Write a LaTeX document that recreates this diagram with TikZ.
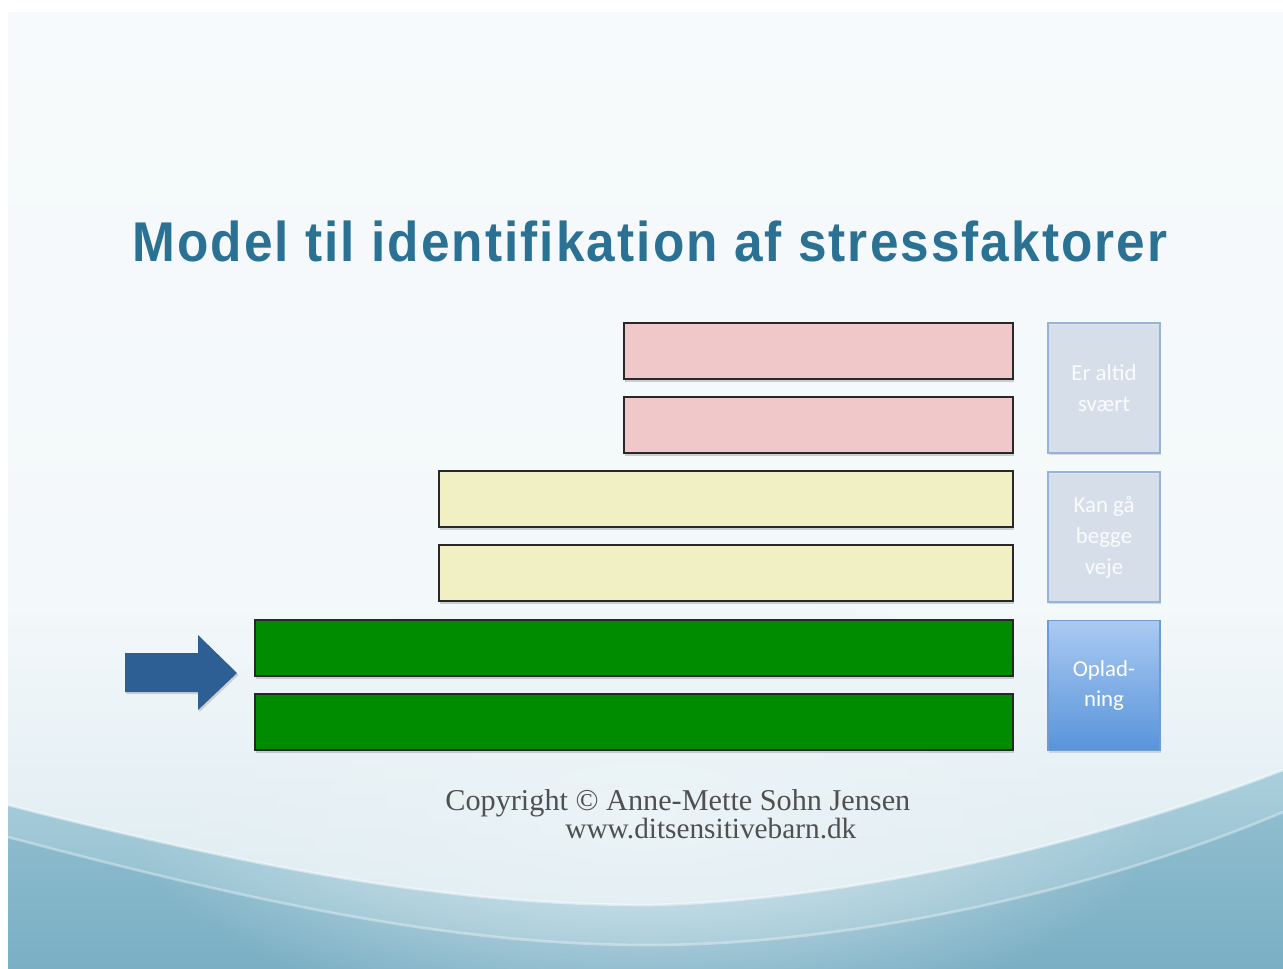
\documentclass[tikz,border=0pt]{standalone}
\usepackage{fontspec}
\setmainfont{Liberation Serif}
\newfontfamily\titlefont[LetterSpace=4]{Liberation Sans}
\newfontfamily\boxfont{Carlito}
\usetikzlibrary{shadows,fadings}

% slide palette
\definecolor{titleblue}{RGB}{42,113,148}
\definecolor{barpink}{RGB}{240,200,202}
\definecolor{baryellow}{RGB}{240,240,196}
\definecolor{bargreen}{RGB}{0,140,0}
\definecolor{barline}{RGB}{40,40,40}
\definecolor{arrowblue}{RGB}{45,95,148}
\definecolor{palebox}{RGB}{214,226,238}
\definecolor{paleedge}{RGB}{150,180,214}
\definecolor{boxtop}{RGB}{170,202,242}
\definecolor{boxbottom}{RGB}{88,148,218}
\definecolor{boxedge}{RGB}{110,155,208}
\definecolor{bgA}{RGB}{249,252,253}
\definecolor{bgB}{RGB}{243,248,250}
\definecolor{bgC}{RGB}{221,235,241}
\definecolor{bgD}{RGB}{188,216,227}
\definecolor{bgE}{RGB}{160,200,215}
\definecolor{bandtop}{RGB}{170,206,219}
\definecolor{bandbot}{RGB}{138,186,204}
\definecolor{deeptop}{RGB}{142,189,206}
\definecolor{deepbot}{RGB}{122,175,196}
\definecolor{glow}{RGB}{236,244,247}
\definecolor{copygray}{RGB}{80,80,80}

% sky gradient, bottom (0bp) to top (100bp)
\pgfdeclareverticalshading{slidesky}{100bp}{%
  color(0bp)=(bgE); color(17bp)=(bgD); color(28bp)=(bgC);
  color(44bp)=(bgB); color(100bp)=(bgA)}
\tikzfading[name=softglow, inner color=transparent!0, outer color=transparent!100]

\tikzset{
  bar/.style={draw=barline, line width=1.3pt, rectangle, inner sep=0pt,
    minimum height=1.12cm,
    drop shadow={shadow xshift=0.6pt, shadow yshift=-1.6pt, opacity=0.35}},
  tag/.style={rectangle, inner sep=0pt, minimum width=2.24cm,
    minimum height=2.6cm, align=center, text=white,
    font=\boxfont\fontsize{13pt}{17.6pt}\selectfont,
    drop shadow={shadow xshift=0.8pt, shadow yshift=-1.4pt, opacity=0.25}},
  paletag/.style={tag, fill=palebox, fill opacity=0.75, text opacity=0.9,
    draw=paleedge, line width=0.9pt},
  deeptag/.style={tag, top color=boxtop, bottom color=boxbottom,
    draw=boxedge, line width=0.9pt},
}

\begin{document}
\begin{tikzpicture}[x=0.02cm, y=-0.02cm]
  % page and slide background
  \fill[white] (0,0) rectangle (1283,969);
  \useasboundingbox (0,0) rectangle (1283,969);
  \shade[shading=slidesky] (8,13) rectangle (1283,969);

  % curved bands along the foot of the slide
  \shade[top color=bandtop, bottom color=bandbot]
    (8,805) .. controls (300,880) and (480,905) .. (650,905)
    .. controls (850,900) and (1090,845) .. (1283,770)
    -- (1283,969) -- (8,969) -- cycle;
  \shade[top color=deeptop, bottom color=deepbot]
    (8,837) .. controls (300,915) and (480,945) .. (650,945)
    .. controls (850,945) and (1100,890) .. (1283,812)
    -- (1283,969) -- (8,969) -- cycle;

  % pale glow over the middle of the foot
  \fill[glow, path fading=softglow, fill opacity=0.85]
    (645,810) ellipse [x radius=520, y radius=220];

  \draw[white, opacity=0.45, line width=1.5pt]
    (8,805) .. controls (300,880) and (480,905) .. (650,905)
    .. controls (850,900) and (1090,845) .. (1283,770);
  \draw[white, opacity=0.35, line width=1.5pt]
    (8,837) .. controls (300,915) and (480,945) .. (650,945)
    .. controls (850,945) and (1100,890) .. (1283,812);

  % heading
  \node[anchor=base, text=titleblue, inner sep=0pt] (title) at (650,262)
    {\resizebox{20.7cm}{\height}{\titlefont\bfseries\fontsize{31.9pt}{36pt}\selectfont
      Model til identifikation af stressfaktorer}};

  % stacked bars
  \node[bar, fill=barpink,   minimum width=7.78cm]  (p1) at (818.5,351) {};
  \node[bar, fill=barpink,   minimum width=7.78cm]  (p2) at (818.5,425) {};
  \node[bar, fill=baryellow, minimum width=11.48cm] (y1) at (726,499) {};
  \node[bar, fill=baryellow, minimum width=11.48cm] (y2) at (726,573) {};
  \node[bar, fill=bargreen,  minimum width=15.16cm] (g1) at (634,648) {};
  \node[bar, fill=bargreen,  minimum width=15.16cm] (g2) at (634,722) {};

  % category tags
  \node[paletag] (hard)   at (1104,388)   {Er altid\\svært};
  \node[paletag] (both)   at (1104,537)   {Kan gå\\begge\\veje};
  \node[deeptag] (charge) at (1104,685.5) {Oplad-\\ning};

  % block arrow pointing at the lowest level
  \fill[arrowblue, drop shadow={shadow xshift=0.8pt, shadow yshift=-1.2pt, opacity=0.3}]
    (125,653) -- (198,653) -- (198,635) -- (237,673) -- (198,710)
    -- (198,692) -- (125,692) -- cycle;

  % credit lines
  \node[anchor=base west, inner sep=0pt, text=copygray] (credit) at (445,810)
    {\resizebox{9.3cm}{!}{\fontsize{14pt}{17pt}\selectfont
      Copyright \textcopyright{} Anne-Mette Sohn Jensen}};
  \node[anchor=base west, inner sep=0pt, text=copygray] (site) at (565,838)
    {\resizebox{5.82cm}{!}{\fontsize{14pt}{17pt}\selectfont
      www.ditsensitivebarn.dk}};
\end{tikzpicture}
\end{document}
